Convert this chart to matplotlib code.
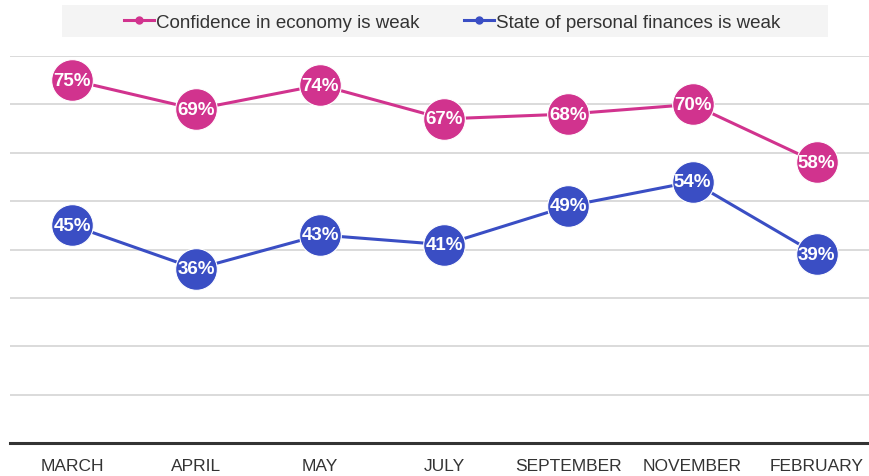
import matplotlib.pyplot as plt
from matplotlib.lines import Line2D
from matplotlib.patches import Rectangle

plt.rcParams['font.family'] = ['Liberation Sans', 'DejaVu Sans']

# Data
months = ['MARCH', 'APRIL', 'MAY', 'JULY', 'SEPTEMBER', 'NOVEMBER', 'FEBRUARY']
economy_weak = [75, 69, 74, 67, 68, 70, 58]
finances_weak = [45, 36, 43, 41, 49, 54, 39]

pink = '#d1338e'
blue = '#3a4ec4'

fig = plt.figure(figsize=(8.7, 4.77), dpi=100)
ax = fig.add_axes([10 / 870, 33 / 477, 860 / 870, 387 / 477])

x = list(range(len(months)))
for vals, col in [(economy_weak, pink), (finances_weak, blue)]:
    ax.plot(x, vals, color=col, linewidth=2.2, marker='o', markersize=30,
            markerfacecolor=col, markeredgecolor='white', markeredgewidth=0.8,
            clip_on=False, zorder=3)
    for xi, v in zip(x, vals):
        ax.text(xi, v, f'{v}%', color='white', fontsize=13.5, fontweight='bold',
                ha='center', va='center', zorder=4)

ax.set_xlim(-0.5, 6.43)
ax.set_ylim(0, 80)
ax.set_yticks(range(10, 81, 10))
ax.yaxis.grid(True, color='#d4d4d4', linewidth=1.2)
ax.set_axisbelow(True)
ax.tick_params(axis='y', left=False, labelleft=False)
ax.tick_params(axis='x', length=0, pad=11, labelsize=12.5, labelcolor='#333333')
ax.set_xticks(x)
ax.set_xticklabels(months)
for s in ['top', 'right', 'left']:
    ax.spines[s].set_visible(False)
ax.spines['bottom'].set_color('#333333')
ax.spines['bottom'].set_linewidth(2.2)

# Legend with light grey band
fig.patches.append(Rectangle((62 / 870, (477 - 38) / 477), 766 / 870, 32 / 477,
                             transform=fig.transFigure, facecolor='#f4f4f4',
                             edgecolor='none', zorder=0))
handles = [Line2D([0], [0], color=pink, linewidth=2.2, marker='o', markersize=5),
           Line2D([0], [0], color=blue, linewidth=2.2, marker='o', markersize=5)]
fig.legend(handles, ['Confidence in economy is weak', 'State of personal finances is weak'],
           loc='center', bbox_to_anchor=(452 / 870, (477 - 23) / 477), ncol=2,
           frameon=False, fontsize=13.5, handlelength=1.6, handletextpad=0.1,
           columnspacing=2.4, labelcolor='#333333')

fig.savefig('out.png', dpi=100)
